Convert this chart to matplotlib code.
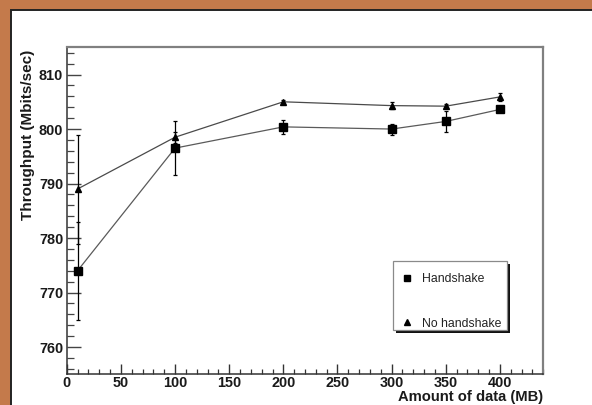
import matplotlib
matplotlib.use("Agg")
import matplotlib.pyplot as plt
from matplotlib.patches import Rectangle
from matplotlib.lines import Line2D
from matplotlib.ticker import MultipleLocator

plt.rcParams['font.family'] = ['Liberation Sans', 'DejaVu Sans']

# ---- data ----
data_mb = [10, 100, 200, 300, 350, 400]
handshake = [774.0, 796.5, 800.4, 800.0, 801.4, 803.6]
handshake_err = [9.0, 5.0, 1.3, 1.0, 2.0, 0.4]
no_handshake = [789.0, 798.5, 805.0, 804.3, 804.2, 805.9]
no_handshake_err = [10.0, 1.0, 0.3, 0.7, 0.4, 0.8]
series_labels = ["Handshake", "No handshake"]
x_label = "Amount of data (MB)"
y_label = "Throughput (Mbits/sec)"

W, H = 592, 405
fig = plt.figure(figsize=(W / 100, H / 100), dpi=100)
fig.patch.set_facecolor('#c47a4b')

# white panel with dark border
panel = Rectangle((10.5 / W, -0.1), 1.2, (H - 10.5) / H + 0.1,
                  transform=fig.transFigure, facecolor='white',
                  edgecolor='#222222', lw=1.4, zorder=0)
fig.add_artist(panel)

L, R, T, B = 66.7, 543.3, 47.3, 374.3
ax = fig.add_axes([L / W, 1 - B / H, (R - L) / W, (B - T) / H])
ax.set_facecolor('white')

ax.errorbar(data_mb, handshake, yerr=handshake_err, fmt='none', ecolor='black',
            elinewidth=0.9, capsize=1.5, capthick=0.9, zorder=3)
ax.errorbar(data_mb, no_handshake, yerr=no_handshake_err, fmt='none', ecolor='black',
            elinewidth=0.9, capsize=1.5, capthick=0.9, zorder=3)
ax.plot(data_mb, handshake, color='#5a5a5a', lw=0.9, zorder=2)
ax.plot(data_mb, no_handshake, color='#4a4a4a', lw=0.9, zorder=2)
ax.plot(data_mb, handshake, ls='none', marker='s', ms=5.2, color='black', zorder=4)
ax.plot(data_mb, no_handshake, ls='none', marker='^', ms=4.2, color='black', zorder=4)

ax.set_xlim(0, 440)
ax.set_ylim(755, 815)
ax.xaxis.set_major_locator(MultipleLocator(50))
ax.xaxis.set_minor_locator(MultipleLocator(10))
ax.yaxis.set_major_locator(MultipleLocator(10))
ax.yaxis.set_minor_locator(MultipleLocator(2))

ax.tick_params(axis='x', which='major', direction='in', length=7.2, width=1.0,
               color='#333333', pad=1.5, labelsize=10.4, labelcolor='#1a1a1a')
ax.tick_params(axis='x', which='minor', direction='in', length=3.6, width=0.9,
               color='#333333')
ax.tick_params(axis='y', which='major', direction='in', length=10, width=1.0,
               color='#444444', pad=2.5, labelsize=10.4, labelcolor='#1a1a1a')
ax.tick_params(axis='y', which='minor', direction='in', length=5, width=0.9,
               color='#444444')
for lab in ax.get_xticklabels() + ax.get_yticklabels():
    lab.set_fontweight('bold')

for side in ['left', 'bottom']:
    ax.spines[side].set_color('#333333')
    ax.spines[side].set_linewidth(1.1)
for side in ['top', 'right']:
    ax.spines[side].set_color('#808080')
    ax.spines[side].set_linewidth(1.6)

fig.text(R / W, 1 - 401.5 / H, x_label, ha='right', va='baseline',
         fontsize=10.6, fontweight='bold', color='#1a1a1a')
fig.text(28 / W, 1 - 50 / H, y_label, rotation=90, ha='center', va='top',
         fontsize=11, fontweight='bold', color='#1a1a1a')

# legend box with shadow
def axfx(px):
    return (px - L) / (R - L)

def axfy(py):
    return (B - py) / (B - T)

lx0, lx1, ly0, ly1 = 392.7, 506.7, 260.7, 330.0
shadow = Rectangle((axfx(lx0 + 3), axfy(ly1 + 3)), axfx(lx1) - axfx(lx0),
                   axfy(ly0) - axfy(ly1), transform=ax.transAxes,
                   facecolor='#111111', edgecolor='none', zorder=5)
box = Rectangle((axfx(lx0), axfy(ly1)), axfx(lx1) - axfx(lx0),
                axfy(ly0) - axfy(ly1), transform=ax.transAxes,
                facecolor='white', edgecolor='#8a8a8a', lw=0.9, zorder=6)
ax.add_patch(shadow)
ax.add_patch(box)

handles = [Line2D([], [], ls='none', marker='s', ms=4.2, color='black'),
           Line2D([], [], ls='none', marker='^', ms=4.2, color='black')]
leg = ax.legend(handles, series_labels, loc='upper left',
                bbox_to_anchor=(axfx(400.6), axfy(273.5)),
                frameon=False, fontsize=8.8, borderpad=0, borderaxespad=0,
                handlelength=1.0, handletextpad=0.73, labelspacing=2.64,
                labelcolor='#222222')
leg.set_zorder(7)

fig.savefig('out.png', dpi=100, facecolor=fig.get_facecolor())
